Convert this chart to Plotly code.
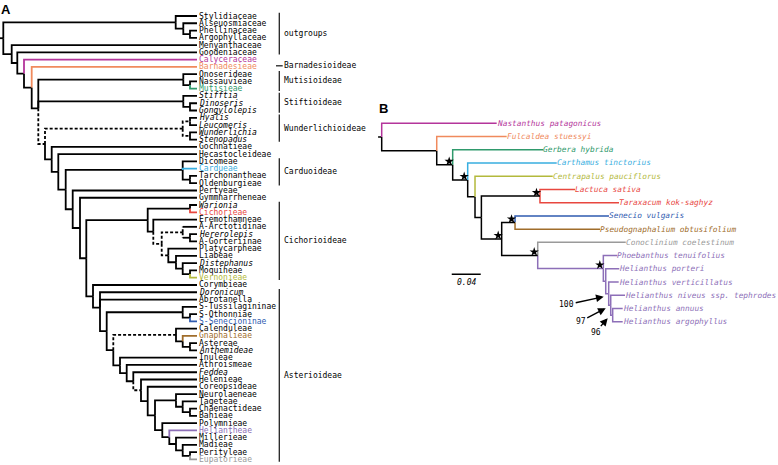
import plotly.graph_objects as go

W, H = 778, 465
MONO = "DejaVu Sans Mono"

MAGENTA = "#b4359b"
ORANGE = "#f08a5d"
GREEN = "#2f9a6c"
CYAN = "#38aee0"
RED = "#e8473f"
YGREEN = "#b3b93c"
BLUE = "#2f5bb0"
BROWN = "#a06d2b"
PURPLE = "#8d6fb8"
GRAY = "#9a9a9a"


def D(n):  # dashed edge (vertical + horizontal)
    return {"node": n, "dash": "all"}


def V(n):  # dashed vertical part only
    return {"node": n, "dash": "v"}


def C(n, color):  # coloured clade
    return {"node": n, "color": color}


# ---------------- Panel A : cladogram (node depth, children...) ----------------
A_TIP = 197.0
A_OUT = [175.7, "Stylidiaceae", [183.3, "Alseuosmiaceae", [190, "Phellinaceae", "Argophyllaceae"]]]
A_MUT = [183.3, "Onoserideae", [190, "Nassauvieae", "Mutisieae"]]
A_STI = [183.3, "Stifftia", [190, "Dinoseris", "Gongylolepis"]]
A_WUN = [182.7, D([190, "Hyalis", "Leucomeris"]), D([190, "Wunderlichia", "Stenopadus"])]
A_CAR = [182.7, "Dicomeae", "Cardueae", [190, "Tarchonantheae", "Oldenburgieae"]]
A_CIC = [147.7, [190, "Warionia", "Cichorieae"],
         [153.3, "Eremothamneae",
          D([161.7,
             D([182.7, V("A-Arctotidinae"), V([190, "Hererolepis", "A-Gorteriinae"])]),
             D([168.3, "Platycarpheae",
                [176, "Liabeae", [182.7, "Distephanus", [190, "Moquineae", "Vernonieae"]]]])])]]
A_SEN = [182.7, "S-Tussilagininae", [190, "S-Othonniae", "S-Senecioninae"]]
A_CGA = [176, "Calenduleae", [182.7, "Gnaphalieae", [190, "Astereae", "Anthemideae"]]]
A_NEU = [176, "Neurolaeneae", [182.7, "Tageteae", [190, "Chaenactideae", "Bahieae"]]]
A_POL = [162.3, "Polymnieae",
         [169.3, "Heliantheae", [176, "Millerieae", [182.7, "Madieae", [190, "Perityleae", "Eupatorieae"]]]]]
A_HEL = [141, "Helenieae", [147.7, "Coreopsideae", [155, A_NEU, A_POL]]]
A_AST = [100, "Doronicum", "Abrotanella",
         [106.7, A_SEN, [113.3, D(A_CGA), [120, "Inuleae", [126.7, "Athroismeae", [133.3, "Feddea", D(A_HEL)]]]]]]
A_REST = [51.7, "Gochnatieae",
          [58.3, "Hecastocleideae",
           [65.7, A_CAR,
            [72.7, "Pertyeae",
             [80, "Gymmnarrheneae", [86.3, A_CIC, [93, "Corymbieae", A_AST]]]]]]]
A_TREE = [3.3, A_OUT,
          [11.7, "Menyanthaceae",
           [17.3, "Goodeniaceae",
            [24, "Calyceraceae",
             [31.7, "Barnadesieae",
              [38.3, A_MUT, A_STI, D([45, D(A_WUN), A_REST])]]]]]]

A_COLORS = {"Calyceraceae": MAGENTA, "Barnadesieae": ORANGE, "Mutisieae": GREEN,
            "Cardueae": CYAN, "Cichorieae": RED, "Vernonieae": YGREEN,
            "S-Senecioninae": BLUE, "Gnaphalieae": BROWN, "Heliantheae": PURPLE,
            "Eupatorieae": GRAY}
A_ITALIC = {"Stifftia", "Dinoseris", "Gongylolepis", "Hyalis", "Leucomeris", "Wunderlichia",
            "Stenopadus", "Warionia", "Hererolepis", "Distephanus", "Doronicum",
            "Anthemideae", "Feddea"}

A_GROUPS = [("outgroups", "Stylidiaceae", "Goodeniaceae"),
            ("Mutisioideae", "Onoserideae", "Mutisieae"),
            ("Stiftioideae", "Stifftia", "Gongylolepis"),
            ("Wunderlichioideae", "Hyalis", "Stenopadus"),
            ("Carduoideae", "Dicomeae", "Oldenburgieae"),
            ("Cichorioideae", "Warionia", "Vernonieae"),
            ("Asterioideae", "Doronicum", "Eupatorieae")]
A_TICK_GROUP = ("Barnadesioideae", "Barnadesieae")

# ---------------- Panel B : phylogram (substitutions / site) ----------------
B_HEL = [0.3057, ("Phoebanthus tenuifolius", 0.3250),
         [0.3090, ("Helianthus porteri", 0.3277),
          [0.3131, ("Helianthus verticillatus", 0.3269),
           [0.3159, ("Helianthus niveus ssp. tephrodes", 0.3356),
            [0.3186, ("Helianthus annuus", 0.3324), ("Helianthus argophyllus", 0.3324)]]]]]
B_TREE = [0.0, ("Nastanthus patagonicus", 0.1586),
          [0.0759, ("Fulcaldea stuessyi", 0.1724),
           [0.0979, ("Gerbera hybrida", 0.2229),
            [0.1186, ("Carthamus tinctorius", 0.2414),
             [0.1287, ("Centrapalus pauciflorus", 0.2359),
              [0.1375,
               [0.2183, ("Lactuca sativa", 0.2666), ("Taraxacum kok-saghyz", 0.3273)],
               [0.1655,
                [0.1839, ("Senecio vulgaris", 0.3135), ("Pseudognaphalium obtusifolium", 0.3011)],
                [0.2152, ("Conoclinium coelestinum", 0.3366), C(B_HEL, PURPLE)]]]]]]]]
B_COLORS = {"Nastanthus patagonicus": MAGENTA, "Fulcaldea stuessyi": ORANGE,
            "Gerbera hybrida": GREEN, "Carthamus tinctorius": CYAN,
            "Centrapalus pauciflorus": YGREEN, "Lactuca sativa": RED,
            "Taraxacum kok-saghyz": RED, "Senecio vulgaris": BLUE,
            "Pseudognaphalium obtusifolium": BROWN, "Conoclinium coelestinum": GRAY}
B_STAR_NODES = [0.0979, 0.1186, 0.2183, 0.1655, 0.1839, 0.2152, 0.3057]
B_BOOTSTRAP = {0.3131: "100", 0.3159: "97", 0.3186: "96"}
B_BOOT_TEXT_OFFSET = {0.3131: (-37, 8), 0.3159: (-25, 13), 0.3186: (-12, 14)}
B_SCALE_VALUE = 0.04
B_SCALE_LABEL = "0.04"

# ---------------- geometry (pixels <-> data) ----------------
A_Y0, A_DY = 16.0, 7.27          # first leaf row, row spacing (px)
B_X0, B_PX_PER_UNIT = 381.7, 725.0
B_Y0, B_DY = 123.3, 13.23


def layout_tree(tree, tip_depth, colors):
    segs, leaves, nodes = [], [], {}
    counter = [0]

    def walk(item, inherit):
        dash, color = None, None
        if isinstance(item, dict):
            dash, color = item.get("dash"), item.get("color")
            item = item["node"]
        if isinstance(item, (str, tuple)):
            name, d = (item, tip_depth) if isinstance(item, str) else item
            y = counter[0]
            counter[0] += 1
            c = colors.get(name, color or inherit)
            leaves.append((name, d, y, c))
            return d, y, dash, c
        depth = item[0]
        sub = color or inherit
        kids = [walk(k, sub) for k in item[1:]]
        y = sum(k[1] for k in kids) / len(kids)
        for kx, ky, kd, kc in kids:
            col = kc or "black"
            if kd == "all":
                segs.append(([depth, depth, kx], [y, ky, ky], col, True))
            elif kd == "v":
                segs.append(([depth, depth], [y, ky], col, True))
                segs.append(([depth, kx], [ky, ky], col, False))
            else:
                segs.append(([depth, depth, kx], [y, ky, ky], col, False))
        nodes[depth] = (depth, y)
        return depth, y, dash, sub

    root = walk(tree, None)
    return segs, leaves, nodes, root


def seg_traces(segs, width, xa, ya):
    groups = {}
    for xs, ys, col, dashed in segs:
        g = groups.setdefault((col, dashed), ([], []))
        g[0].extend(xs + [None])
        g[1].extend(ys + [None])
    out = []
    for (col, dashed), (xs, ys) in groups.items():
        out.append(go.Scatter(x=xs, y=ys, mode="lines", xaxis=xa, yaxis=ya,
                              line=dict(color=col, width=width,
                                        dash="3px,2px" if dashed else "solid"),
                              hoverinfo="skip", showlegend=False))
    return out


fig = go.Figure()
ann = []

# ---- Panel A ----
segsA, leavesA, nodesA, rootA = layout_tree(A_TREE, A_TIP, A_COLORS)
segsA.append(([0, rootA[0]], [rootA[1], rootA[1]], "black", False))
for t in seg_traces(segsA, 1.8, "x", "y"):
    fig.add_trace(t)
idxA = {}
for name, d, y, c in leavesA:
    idxA[name] = y
    txt = f"<i>{name}</i>" if name in A_ITALIC else name
    ann.append(dict(x=d, y=y, xref="x", yref="y", text=txt, showarrow=False,
                    xanchor="left", yanchor="middle", xshift=0,
                    font=dict(family=MONO, size=8, color=c or "black")))

BR_X = 279.3
bx, by = [], []
for label, first, last in A_GROUPS:
    y0, y1 = idxA[first] - 0.45, idxA[last] + 0.3
    bx += [BR_X, BR_X, None]
    by += [y0, y1, None]
    ann.append(dict(x=BR_X + 3, y=(y0 + y1) / 2, xref="x", yref="y", text=label,
                    showarrow=False, xanchor="left", yanchor="middle",
                    font=dict(family=MONO, size=8, color="black")))
ty = idxA[A_TICK_GROUP[1]] - 0.15
bx += [BR_X - 3.3, BR_X + 3.4, None]
by += [ty, ty, None]
ann.append(dict(x=BR_X + 3, y=ty, xref="x", yref="y", text=A_TICK_GROUP[0],
                showarrow=False, xanchor="left", yanchor="middle",
                font=dict(family=MONO, size=8, color="black")))
fig.add_trace(go.Scatter(x=bx, y=by, mode="lines", xaxis="x", yaxis="y",
                         line=dict(color="#222", width=1.3), hoverinfo="skip",
                         showlegend=False))

# ---- Panel B ----
segsB, leavesB, nodesB, rootB = layout_tree(B_TREE, 0.0, B_COLORS)
segsB.append(([rootB[0] - 0.005, rootB[0]], [rootB[1], rootB[1]], "black", False))
for t in seg_traces(segsB, 1.5, "x2", "y2"):
    fig.add_trace(t)
for name, d, y, c in leavesB:
    ann.append(dict(x=d, y=y, xref="x2", yref="y2", text=f"<i>{name}</i>",
                    showarrow=False, xanchor="left", yanchor="middle", xshift=-2,
                    font=dict(family=MONO, size=7.8, color=c or "black")))

sx = [nodesB[k][0] - 3.5 / B_PX_PER_UNIT for k in B_STAR_NODES]
sy = [nodesB[k][1] - 3.5 / B_DY for k in B_STAR_NODES]
fig.add_trace(go.Scatter(x=sx, y=sy, mode="markers", xaxis="x2", yaxis="y2",
                         marker=dict(symbol="star", size=7, color="black"),
                         hoverinfo="skip", showlegend=False))

for k, txt in B_BOOTSTRAP.items():
    nx, ny = nodesB[k]
    ax, ay = B_BOOT_TEXT_OFFSET[k]
    ann.append(dict(x=nx, y=ny, xref="x2", yref="y2", text=txt, showarrow=True,
                    ax=ax, ay=ay, xshift=-5, yshift=-3,
                    arrowhead=2, arrowsize=1.1, arrowwidth=1.4, arrowcolor="black",
                    standoff=0, startstandoff=0,
                    font=dict(family=MONO, size=8, color="black")))

# scale bar
sb_x0 = 0.0966
sb_y = 11.41
fig.add_trace(go.Scatter(x=[sb_x0, sb_x0 + B_SCALE_VALUE], y=[sb_y, sb_y], mode="lines",
                         xaxis="x2", yaxis="y2", line=dict(color="black", width=1.5),
                         hoverinfo="skip", showlegend=False))
ann.append(dict(x=sb_x0 + B_SCALE_VALUE / 2, y=sb_y + 0.64, xref="x2", yref="y2",
                text=f"<i>{B_SCALE_LABEL}</i>", showarrow=False, xanchor="center",
                yanchor="middle", font=dict(family=MONO, size=8, color="black")))

# panel letters
ann.append(dict(x=6 / W, y=1 - 9 / H, xref="paper", yref="paper", text="<b>A</b>",
                showarrow=False, xanchor="center", yanchor="middle",
                font=dict(family="Liberation Sans", size=13, color="black")))
ann.append(dict(x=383.5 / W, y=1 - 109 / H, xref="paper", yref="paper", text="<b>B</b>",
                showarrow=False, xanchor="center", yanchor="middle",
                font=dict(family="Liberation Sans", size=13, color="black")))

ax_off = dict(visible=False, showgrid=False, zeroline=False, fixedrange=True)
fig.update_layout(
    width=W, height=H, margin=dict(l=0, r=0, t=0, b=0),
    paper_bgcolor="white", plot_bgcolor="white", showlegend=False,
    xaxis=dict(domain=[0, 1], range=[0, W], **ax_off),
    yaxis=dict(domain=[0, 1], range=[(H - A_Y0) / A_DY, -A_Y0 / A_DY], **ax_off),
    xaxis2=dict(domain=[0, 1], range=[-B_X0 / B_PX_PER_UNIT, (W - B_X0) / B_PX_PER_UNIT],
                anchor="y2", overlaying="x", **ax_off),
    yaxis2=dict(domain=[0, 1], range=[(H - B_Y0) / B_DY, -B_Y0 / B_DY],
                anchor="x2", overlaying="y", **ax_off),
    annotations=ann,
)

fig.write_html("out.html", config={"displayModeBar": False},
               post_script="document.body.style.margin='0px';document.body.style.padding='0px';")
